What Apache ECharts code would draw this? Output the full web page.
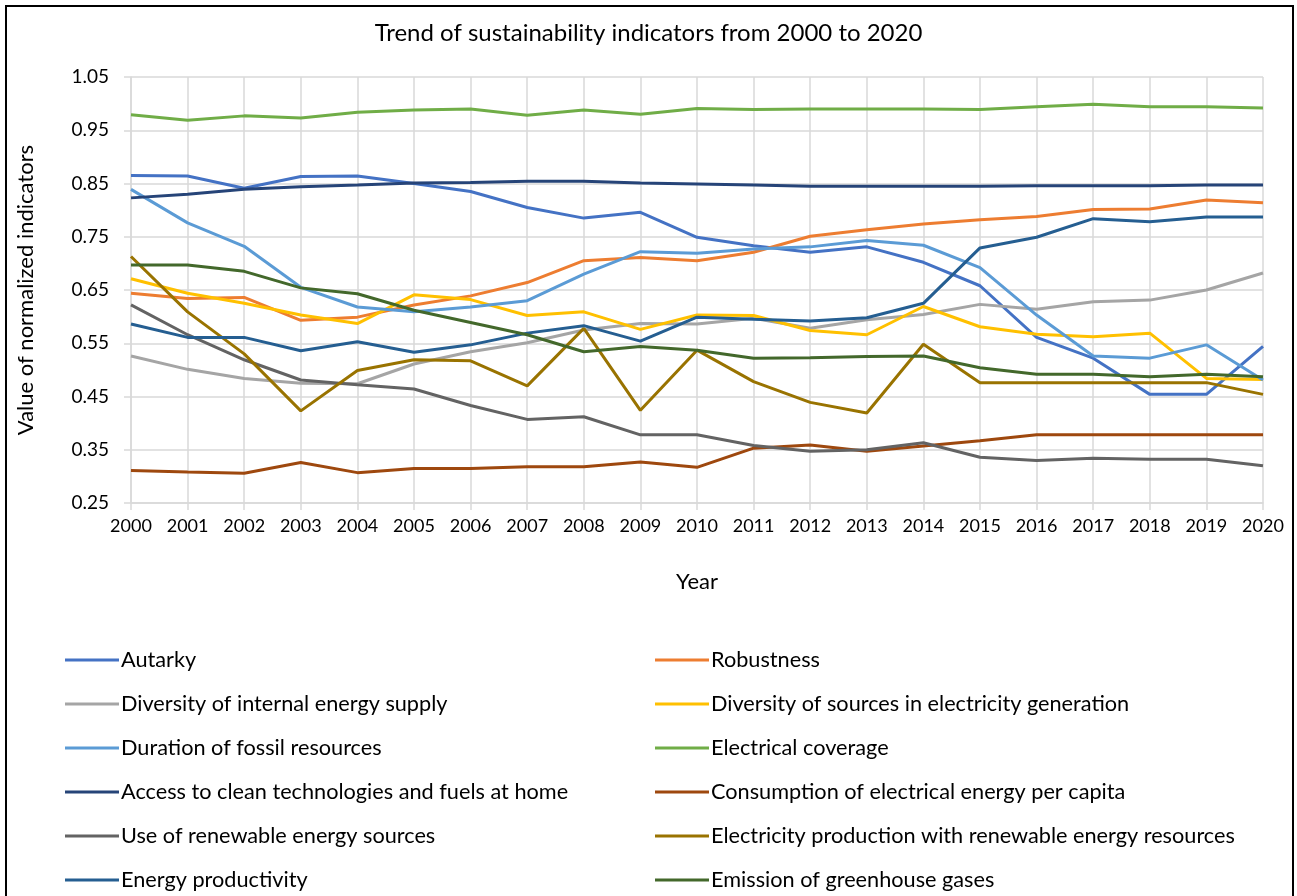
<!DOCTYPE html>
<html>
<head>
<meta charset="utf-8">
<script src="https://cdn.jsdelivr.net/npm/echarts@6/dist/echarts.min.js"></script>
<style>
  html, body { margin: 0; padding: 0; background: #fff; }
  #chart { width: 1297px; height: 896px; }
</style>
</head>
<body>
<div id="chart"></div>
<script>
const years = ['2000', '2001', '2002', '2003', '2004', '2005', '2006', '2007', '2008', '2009', '2010',
  '2011', '2012', '2013', '2014', '2015', '2016', '2017', '2018', '2019', '2020'];
const yTicks = [0.25, 1.05, 0.1]; // min, max, step

const autarky = [0.865, 0.864, 0.841, 0.863, 0.864, 0.850, 0.835, 0.805, 0.785, 0.796, 0.749,
  0.733, 0.721, 0.731, 0.702, 0.658, 0.561, 0.522, 0.454, 0.454, 0.544];
const robustness = [0.644, 0.634, 0.636, 0.593, 0.599, 0.622, 0.639, 0.664, 0.705, 0.711, 0.705,
  0.721, 0.751, 0.763, 0.774, 0.782, 0.788, 0.801, 0.802, 0.819, 0.814];
const diversityInternal = [0.526, 0.501, 0.484, 0.475, 0.474, 0.511, 0.534, 0.551, 0.575, 0.587, 0.586,
  0.597, 0.578, 0.594, 0.604, 0.623, 0.614, 0.628, 0.631, 0.650, 0.682];
const diversitySources = [0.671, 0.644, 0.625, 0.603, 0.587, 0.641, 0.632, 0.602, 0.609, 0.576, 0.603,
  0.602, 0.574, 0.566, 0.619, 0.581, 0.567, 0.562, 0.569, 0.484, 0.482];
const fossilDuration = [0.839, 0.776, 0.732, 0.655, 0.618, 0.609, 0.618, 0.630, 0.680, 0.722, 0.719,
  0.727, 0.731, 0.743, 0.734, 0.692, 0.603, 0.526, 0.522, 0.547, 0.481];
const electricalCoverage = [0.979, 0.969, 0.977, 0.973, 0.984, 0.988, 0.990, 0.978, 0.988, 0.980, 0.991,
  0.989, 0.990, 0.990, 0.990, 0.989, 0.994, 0.999, 0.994, 0.994, 0.992];
const cleanAccess = [0.823, 0.830, 0.839, 0.844, 0.847, 0.851, 0.852, 0.854, 0.854, 0.851, 0.849,
  0.847, 0.845, 0.845, 0.845, 0.845, 0.846, 0.846, 0.846, 0.847, 0.847];
const consumption = [0.311, 0.308, 0.306, 0.326, 0.307, 0.315, 0.315, 0.318, 0.318, 0.327, 0.317,
  0.353, 0.359, 0.347, 0.357, 0.367, 0.378, 0.378, 0.378, 0.378, 0.378];
const renewableUse = [0.622, 0.566, 0.519, 0.481, 0.472, 0.464, 0.433, 0.407, 0.412, 0.378, 0.378,
  0.358, 0.347, 0.350, 0.363, 0.336, 0.330, 0.334, 0.332, 0.332, 0.320];
const renewableProduction = [0.713, 0.609, 0.530, 0.423, 0.499, 0.519, 0.517, 0.470, 0.578, 0.424, 0.537,
  0.478, 0.439, 0.419, 0.548, 0.476, 0.476, 0.476, 0.476, 0.476, 0.454];
const energyProductivity = [0.586, 0.561, 0.561, 0.536, 0.553, 0.533, 0.547, 0.569, 0.583, 0.554, 0.599,
  0.595, 0.592, 0.598, 0.625, 0.729, 0.749, 0.784, 0.778, 0.787, 0.787];
const emissions = [0.697, 0.697, 0.685, 0.654, 0.643, 0.612, 0.589, 0.566, 0.534, 0.544, 0.537,
  0.522, 0.523, 0.525, 0.526, 0.504, 0.492, 0.492, 0.487, 0.492, 0.487];

// excel order: legend reads row by row, left then right
const seriesList = [
  { name: 'Autarky', data: autarky, color: '#4472C4' },
  { name: 'Robustness', data: robustness, color: '#ED7D31' },
  { name: 'Diversity of internal energy supply', data: diversityInternal, color: '#A5A5A5' },
  { name: 'Diversity of sources in electricity generation', data: diversitySources, color: '#FFC000' },
  { name: 'Duration of fossil resources', data: fossilDuration, color: '#5B9BD5' },
  { name: 'Electrical coverage', data: electricalCoverage, color: '#70AD47' },
  { name: 'Access to clean technologies and fuels at home', data: cleanAccess, color: '#264478' },
  { name: 'Consumption of electrical energy per capita', data: consumption, color: '#9E480E' },
  { name: 'Use of renewable energy sources', data: renewableUse, color: '#636363' },
  { name: 'Electricity production with renewable energy resources', data: renewableProduction, color: '#997300' },
  { name: 'Energy productivity', data: energyProductivity, color: '#255E91' },
  { name: 'Emission of greenhouse gases', data: emissions, color: '#43682B' }
];

const font = 'Lato, "Open Sans", sans-serif';
const gridColor = '#d9d9d9';

// one legend per entry so the two columns line up like excel's
const legends = seriesList.map((s, i) => ({
  left: i % 2 === 0 ? 60 : 650,
  top: 644 + 44 * Math.floor(i / 2),
  itemWidth: 54,
  itemHeight: 3,
  icon: 'rect',
  data: [s.name],
  textStyle: { fontFamily: font, fontSize: 21.7, color: '#000', padding: [0, 0, 0, -3] }
}));

const chart = echarts.init(document.getElementById('chart'));
chart.setOption({
  backgroundColor: '#fff',
  animation: false,
  title: {
    text: 'Trend of sustainability indicators from 2000 to 2020',
    left: 'center',
    top: 16,
    textStyle: { fontFamily: font, fontSize: 24, fontWeight: 'normal', color: '#000' }
  },
  graphic: [{
    type: 'rect',
    shape: { x: 6, y: 6, width: 1287, height: 900 },
    style: { fill: 'none', stroke: '#000', lineWidth: 2 },
    silent: true
  }],
  legend: legends,
  grid: { left: 131, right: 34, top: 77, bottom: 393 },
  xAxis: {
    type: 'category',
    data: years,
    boundaryGap: false,
    name: 'Year',
    nameLocation: 'middle',
    nameGap: 68,
    nameTextStyle: { fontFamily: font, fontSize: 22, color: '#000' },
    axisLine: { lineStyle: { color: gridColor, width: 1.5 } },
    axisTick: { show: true, length: 7, alignWithLabel: true, lineStyle: { color: gridColor, width: 1.5 } },
    axisLabel: { fontFamily: font, fontSize: 18, color: '#000', margin: 14, interval: 0 },
    splitLine: { show: true, lineStyle: { color: gridColor, width: 1.5 } }
  },
  yAxis: {
    type: 'value',
    min: yTicks[0],
    max: yTicks[1],
    interval: yTicks[2],
    name: 'Value of normalized indicators',
    nameLocation: 'middle',
    nameGap: 94,
    nameTextStyle: { fontFamily: font, fontSize: 22, color: '#000' },
    axisLine: { show: true, lineStyle: { color: gridColor, width: 1.5 } },
    axisTick: { show: true, length: 7, lineStyle: { color: gridColor, width: 1.5 } },
    axisLabel: { fontFamily: font, fontSize: 19, color: '#000', margin: 22, formatter: v => v.toFixed(2) },
    splitLine: { show: true, lineStyle: { color: gridColor, width: 1.5 } }
  },
  series: seriesList.map(s => ({
    name: s.name,
    type: 'line',
    data: s.data,
    symbol: 'none',
    lineStyle: { width: 3, color: s.color },
    itemStyle: { color: s.color }
  }))
});
</script>
</body>
</html>
